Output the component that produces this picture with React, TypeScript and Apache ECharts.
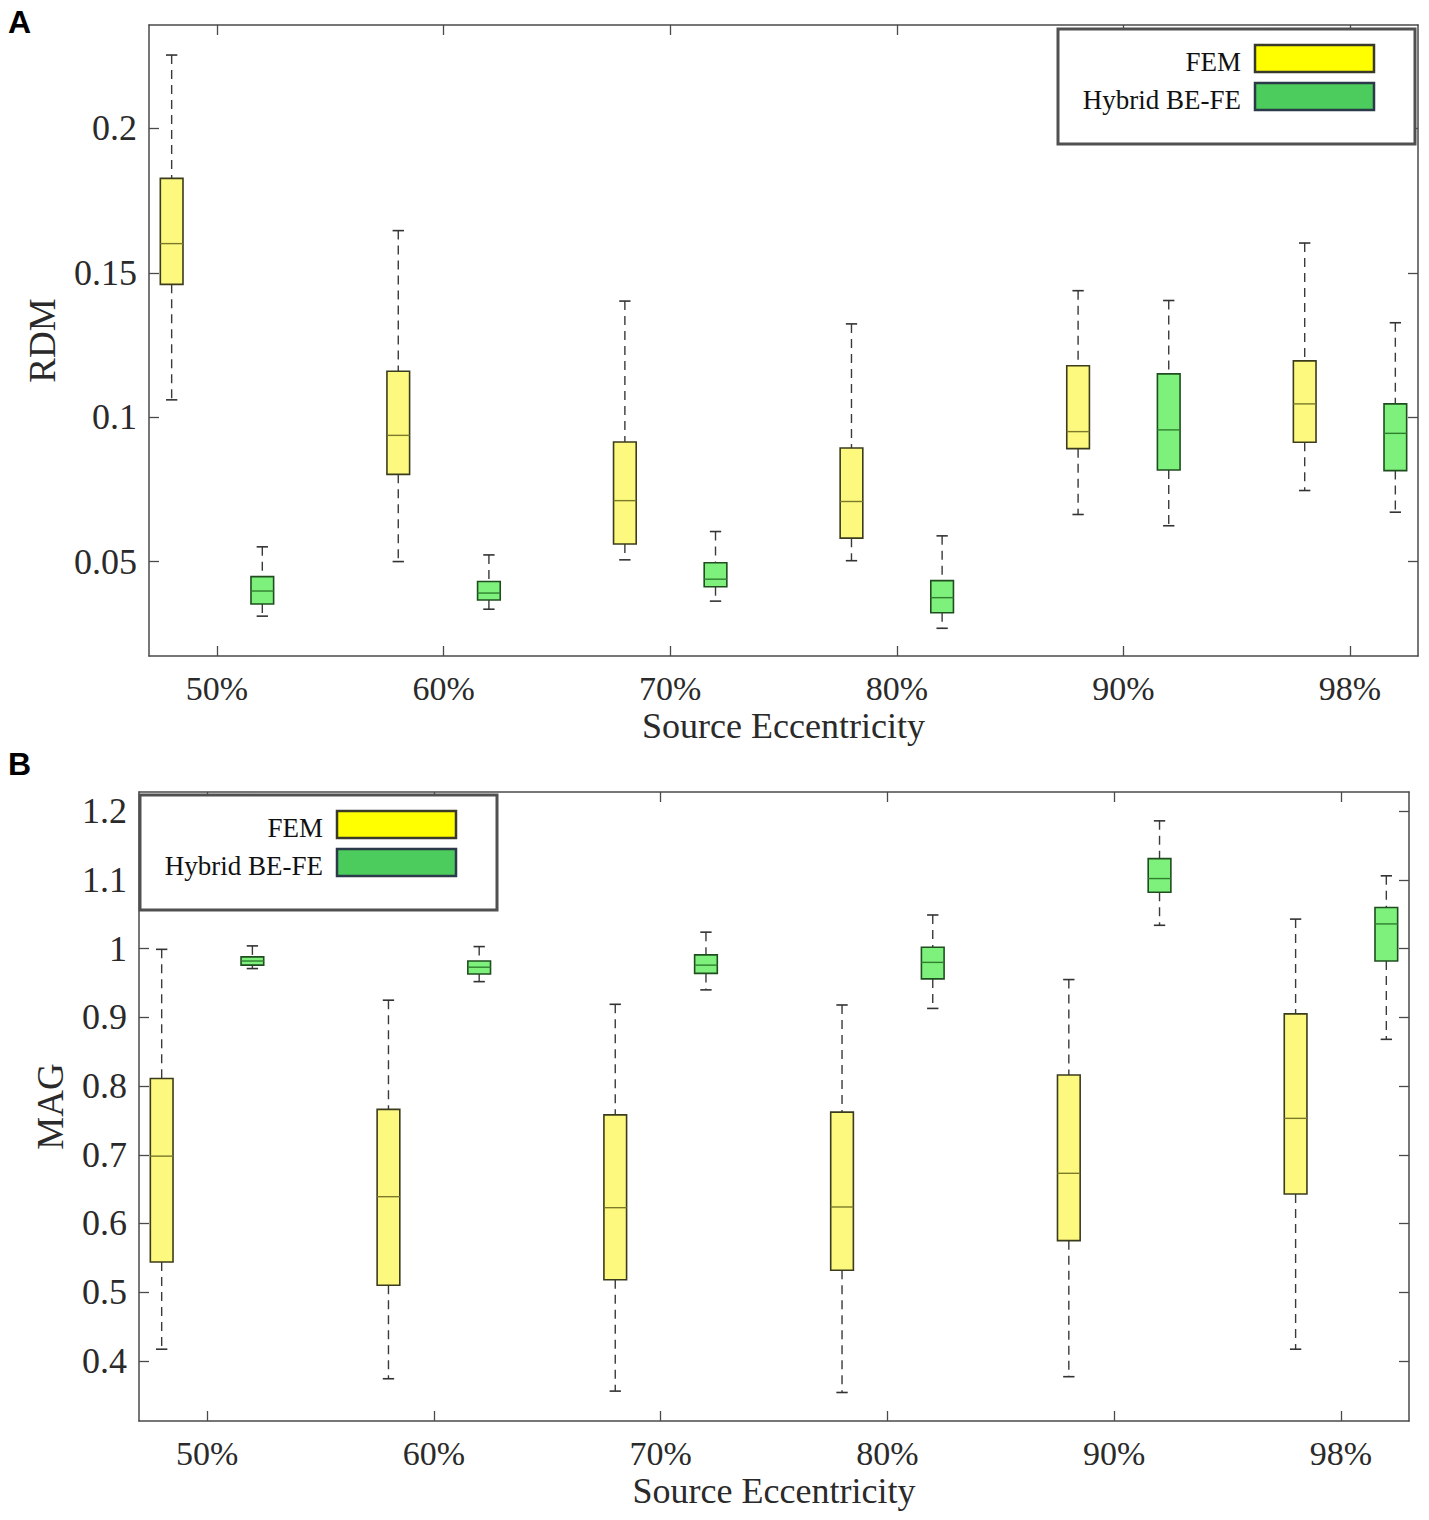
import React, { useEffect, useRef } from "react";
import * as echarts from "echarts";

// ---------- data ----------
const categories = ["50%", "60%", "70%", "80%", "90%", "98%"];
const xTickValues = [1, 2, 3, 4, 5, 6];
const groupOffsetFEM = -0.2;
const groupOffsetHybrid = 0.2;

// Panel A: RDM
const rdmTicks = [0.05, 0.1, 0.15, 0.2];
const rdmFemMin = [0.106, 0.05, 0.0506, 0.0503, 0.0663, 0.0746];
const rdmFemQ1 = [0.146, 0.0802, 0.0561, 0.0581, 0.0891, 0.0913];
const rdmFemMed = [0.1601, 0.0937, 0.0711, 0.0708, 0.095, 0.1046];
const rdmFemQ3 = [0.1827, 0.1159, 0.0914, 0.0893, 0.1178, 0.1195];
const rdmFemMax = [0.2254, 0.1646, 0.1402, 0.1323, 0.1438, 0.1603];

const rdmHybMin = [0.0311, 0.0335, 0.0363, 0.0269, 0.0624, 0.0671];
const rdmHybQ1 = [0.0353, 0.0367, 0.0413, 0.0323, 0.0817, 0.0815];
const rdmHybMed = [0.0398, 0.0391, 0.0439, 0.0375, 0.0956, 0.0944];
const rdmHybQ3 = [0.0448, 0.0431, 0.0496, 0.0434, 0.115, 0.1046];
const rdmHybMax = [0.0551, 0.0523, 0.0604, 0.0589, 0.1404, 0.1327];

// Panel B: MAG
const magTicks = [0.4, 0.5, 0.6, 0.7, 0.8, 0.9, 1, 1.1, 1.2];
const magFemMin = [0.417, 0.374, 0.356, 0.354, 0.377, 0.417];
const magFemQ1 = [0.544, 0.51, 0.518, 0.532, 0.575, 0.643];
const magFemMed = [0.698, 0.639, 0.623, 0.624, 0.673, 0.753];
const magFemQ3 = [0.811, 0.766, 0.758, 0.762, 0.816, 0.905];
const magFemMax = [0.999, 0.925, 0.919, 0.918, 0.955, 1.043];

const magHybMin = [0.971, 0.952, 0.94, 0.913, 1.034, 0.868];
const magHybQ1 = [0.976, 0.963, 0.964, 0.956, 1.082, 0.982];
const magHybMed = [0.982, 0.973, 0.976, 0.98, 1.102, 1.036];
const magHybQ3 = [0.988, 0.982, 0.991, 1.002, 1.131, 1.06];
const magHybMax = [1.004, 1.003, 1.024, 1.049, 1.186, 1.106];

const seriesNames = ["FEM", "Hybrid BE-FE"];

// ---------- styles ----------
const SERIF = "'Liberation Serif', 'DejaVu Serif', serif";
const AXIS_COLOR = "#4a4a4a";
const TEXT_COLOR = "#2a2a2a";
const FEM_STYLE = { fill: "#fdf97e", stroke: "#3b3b1e", median: "#7a7a2a" };
const HYB_STYLE = { fill: "#7ef07c", stroke: "#1f4d1f", median: "#2f7f2f" };

function buildRows(offset: number, mn: number[], q1: number[], md: number[], q3: number[], mx: number[]) {
  return mn.map((_, i) => [xTickValues[i] + offset, mn[i], q1[i], md[i], q3[i], mx[i]]);
}

function makeRenderItem(st: { fill: string; stroke: string; median: string }) {
  return (params: any, api: any) => {
    const x = api.value(0);
    const lo = api.coord([x, api.value(1)]);
    const q1 = api.coord([x, api.value(2)]);
    const md = api.coord([x, api.value(3)]);
    const q3 = api.coord([x, api.value(4)]);
    const hi = api.coord([x, api.value(5)]);
    const w = api.size([0.1, 0])[0];
    const cw = w * 0.5;
    const cx = lo[0];
    const whisk = { stroke: "#3a3a3a", lineWidth: 1.4, lineDash: [9, 6] };
    const cap = { stroke: "#333", lineWidth: 1.6 };
    return {
      type: "group",
      children: [
        { type: "line", shape: { x1: cx, y1: hi[1], x2: cx, y2: q3[1] }, style: whisk },
        { type: "line", shape: { x1: cx, y1: q1[1], x2: cx, y2: lo[1] }, style: whisk },
        { type: "line", shape: { x1: cx - cw / 2, y1: hi[1], x2: cx + cw / 2, y2: hi[1] }, style: cap },
        { type: "line", shape: { x1: cx - cw / 2, y1: lo[1], x2: cx + cw / 2, y2: lo[1] }, style: cap },
        {
          type: "rect",
          shape: { x: cx - w / 2, y: q3[1], width: w, height: q1[1] - q3[1] },
          style: { fill: st.fill, stroke: st.stroke, lineWidth: 1.6 },
        },
        { type: "line", shape: { x1: cx - w / 2, y1: md[1], x2: cx + w / 2, y2: md[1] }, style: { stroke: st.median, lineWidth: 1.4 } },
      ],
    };
  };
}

function xAxes(gridIndex: number) {
  const base = {
    type: "value",
    gridIndex,
    min: 0.7,
    max: 6.3,
    splitLine: { show: false },
    axisLine: { show: true, lineStyle: { color: AXIS_COLOR, width: 1.5 } },
  };
  return [
    {
      ...base,
      position: "bottom",
      axisTick: { show: true, inside: true, length: 10, customValues: xTickValues, lineStyle: { color: AXIS_COLOR, width: 1.3 } },
      axisLabel: {
        show: true,
        customValues: xTickValues,
        formatter: (v: number) => categories[Math.round(v) - 1],
        fontFamily: SERIF,
        fontSize: 34,
        color: TEXT_COLOR,
        margin: 15,
      },
      name: "Source Eccentricity",
      nameLocation: "middle",
      nameGap: 52,
      nameTextStyle: { fontFamily: SERIF, fontSize: 36, color: TEXT_COLOR },
    },
    {
      ...base,
      position: "top",
      axisTick: { show: true, inside: true, length: 10, customValues: xTickValues, lineStyle: { color: AXIS_COLOR, width: 1.3 } },
      axisLabel: { show: false },
    },
  ];
}

function yAxes(gridIndex: number, min: number, max: number, ticks: number[], name: string, nameGap: number) {
  const base = {
    type: "value",
    gridIndex,
    min,
    max,
    splitLine: { show: false },
    axisLine: { show: true, lineStyle: { color: AXIS_COLOR, width: 1.5 } },
  };
  return [
    {
      ...base,
      position: "left",
      axisTick: { show: true, inside: true, length: 10, customValues: ticks, lineStyle: { color: AXIS_COLOR, width: 1.3 } },
      axisLabel: {
        show: true,
        customValues: ticks,
        formatter: (v: number) => String(v),
        fontFamily: SERIF,
        fontSize: 36,
        color: TEXT_COLOR,
        margin: 12,
      },
      name,
      nameLocation: "middle",
      nameGap,
      nameTextStyle: { fontFamily: SERIF, fontSize: 37, color: TEXT_COLOR },
    },
    {
      ...base,
      position: "right",
      axisTick: { show: true, inside: true, length: 10, customValues: ticks, lineStyle: { color: AXIS_COLOR, width: 1.3 } },
      axisLabel: { show: false },
    },
  ];
}

function legendGraphic(left: number, top: number, width: number, height: number) {
  const textRight = left + 183;
  const swX = left + 197;
  return {
    type: "group",
    children: [
      {
        type: "rect",
        shape: { x: left, y: top, width, height },
        style: { fill: "#fff", stroke: "#505050", lineWidth: 3 },
        z: 10,
      },
      {
        type: "text",
        x: textRight,
        y: top + 33,
        style: { text: seriesNames[0], font: `27px ${SERIF}`, fill: "#111", textAlign: "right", textVerticalAlign: "middle" },
        z: 11,
      },
      {
        type: "rect",
        shape: { x: swX, y: top + 16, width: 119, height: 27 },
        style: { fill: "#ffff00", stroke: "#3a3a2a", lineWidth: 2.5 },
        z: 11,
      },
      {
        type: "text",
        x: textRight,
        y: top + 71,
        style: { text: seriesNames[1], font: `27px ${SERIF}`, fill: "#111", textAlign: "right", textVerticalAlign: "middle" },
        z: 11,
      },
      {
        type: "rect",
        shape: { x: swX, y: top + 54, width: 119, height: 27 },
        style: { fill: "#4ccc5c", stroke: "#2a3a48", lineWidth: 2.5 },
        z: 11,
      },
    ],
  };
}

export default function App() {
  const ref = useRef<HTMLDivElement>(null);
  useEffect(() => {
    if (!ref.current) return;
    const chart = echarts.init(ref.current, undefined, { renderer: "svg" });
    const option: any = {
      animation: false,
      backgroundColor: "#ffffff",
      grid: [
        { left: 149, top: 25, width: 1269, height: 631 },
        { left: 139, top: 792, width: 1270, height: 629 },
      ],
      xAxis: [...xAxes(0), ...xAxes(1)],
      yAxis: [
        ...yAxes(0, 0.0173, 0.2358, rdmTicks, "RDM", 88),
        ...yAxes(1, 0.3125, 1.228, magTicks, "MAG", 70),
      ],
      series: [
        {
          type: "custom",
          name: seriesNames[0],
          xAxisIndex: 0,
          yAxisIndex: 0,
          encode: { x: 0, y: [1, 2, 3, 4, 5] },
          renderItem: makeRenderItem(FEM_STYLE),
          data: buildRows(groupOffsetFEM, rdmFemMin, rdmFemQ1, rdmFemMed, rdmFemQ3, rdmFemMax),
        },
        {
          type: "custom",
          name: seriesNames[1],
          xAxisIndex: 0,
          yAxisIndex: 0,
          encode: { x: 0, y: [1, 2, 3, 4, 5] },
          renderItem: makeRenderItem(HYB_STYLE),
          data: buildRows(groupOffsetHybrid, rdmHybMin, rdmHybQ1, rdmHybMed, rdmHybQ3, rdmHybMax),
        },
        {
          type: "custom",
          name: seriesNames[0],
          xAxisIndex: 2,
          yAxisIndex: 2,
          encode: { x: 0, y: [1, 2, 3, 4, 5] },
          renderItem: makeRenderItem(FEM_STYLE),
          data: buildRows(groupOffsetFEM, magFemMin, magFemQ1, magFemMed, magFemQ3, magFemMax),
        },
        {
          type: "custom",
          name: seriesNames[1],
          xAxisIndex: 2,
          yAxisIndex: 2,
          encode: { x: 0, y: [1, 2, 3, 4, 5] },
          renderItem: makeRenderItem(HYB_STYLE),
          data: buildRows(groupOffsetHybrid, magHybMin, magHybQ1, magHybMed, magHybQ3, magHybMax),
        },
      ],
      graphic: [
        {
          type: "text",
          left: 8,
          top: 6,
          style: { text: "A", font: "bold 32px 'Liberation Sans', Arial, sans-serif", fill: "#000" },
        },
        {
          type: "text",
          left: 8,
          top: 748,
          style: { text: "B", font: "bold 32px 'Liberation Sans', Arial, sans-serif", fill: "#000" },
        },
        legendGraphic(1058, 29, 357, 115),
        legendGraphic(140, 795, 357, 115),
      ],
    };
    chart.setOption(option);
    return () => chart.dispose();
  }, []);
  return (
    <div
      ref={ref}
      style={{ position: "absolute", left: 0, top: 0, width: 1429, height: 1520, background: "#fff" }}
    />
  );
}
